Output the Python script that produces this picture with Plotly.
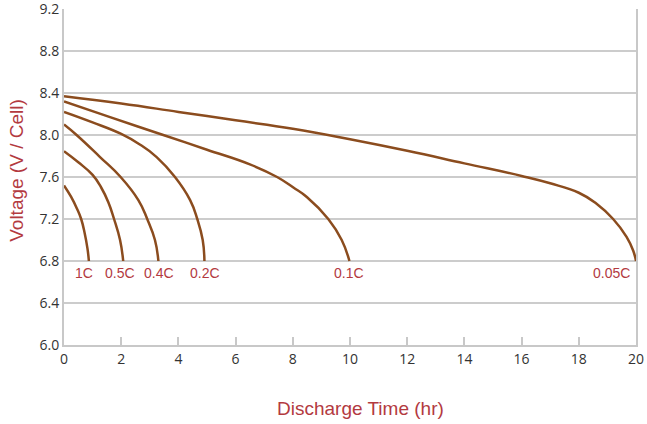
import plotly.graph_objects as go

# Discharge curves (time in hours, voltage per cell)
t_1c = [0, 0.25, 0.45, 0.60, 0.72, 0.82, 0.87]
v_1c = [7.52, 7.41, 7.30, 7.2, 7.07, 6.92, 6.8]
t_05c = [0, 0.5, 1.0, 1.3, 1.55, 1.75, 1.96, 2.07]
v_05c = [7.845, 7.74, 7.62, 7.5, 7.36, 7.2, 7.0, 6.8]
t_04c = [0, 0.44, 1.26, 1.98, 2.60, 2.91, 3.18, 3.30]
v_04c = [8.10, 8.0, 7.79, 7.6, 7.38, 7.2, 7.0, 6.8]
t_02c = [0, 1.0, 2.0, 2.65, 3.24, 3.88, 4.41, 4.66, 4.85, 4.91]
v_02c = [8.22, 8.12, 8.01, 7.91, 7.79, 7.6, 7.38, 7.2, 7.0, 6.8]
t_01c = [0, 1.61, 3.47, 5.0, 6.5, 7.45, 8.02, 8.49, 9.24, 9.71, 9.98]
v_01c = [8.32, 8.17, 8.0, 7.86, 7.72, 7.6, 7.50, 7.41, 7.2, 7.0, 6.8]
t_005c = [0, 2, 4, 6, 8, 10, 12, 14, 16, 17, 18, 18.6, 19.2, 19.67, 19.9, 20]
v_005c = [8.37, 8.30, 8.22, 8.14, 8.06, 7.96, 7.85, 7.73, 7.61, 7.54, 7.45, 7.35, 7.2, 7.03, 6.9, 6.8]

series = [
    ("1C", t_1c, v_1c),
    ("0.5C", t_05c, v_05c),
    ("0.4C", t_04c, v_04c),
    ("0.2C", t_02c, v_02c),
    ("0.1C", t_01c, v_01c),
    ("0.05C", t_005c, v_005c),
]
label_names = ["1C", "0.5C", "0.4C", "0.2C", "0.1C", "0.05C"]
label_x = [0.70, 1.96, 3.32, 4.93, 9.97, 19.16]
label_y = 6.686

x_ticks = list(range(0, 21, 2))
y_ticks = [6.0, 6.4, 6.8, 7.2, 7.6, 8.0, 8.4, 8.8, 9.2]

line_color = "#8B4C1E"
red = "#B33A3F"

fig = go.Figure()
for name, t, v in series:
    fig.add_trace(go.Scatter(x=t, y=v, mode="lines", name=name,
                             line=dict(color=line_color, width=2.5, shape="spline", smoothing=1.3),
                             showlegend=False, hoverinfo="skip"))

for name, lx in zip(label_names, label_x):
    fig.add_annotation(x=lx, y=label_y, text=name, showarrow=False,
                       xref="x", yref="y", font=dict(color=red, size=14, family="Liberation Sans"))

fig.add_annotation(text="Discharge Time (hr)", x=0.5175, y=-0.188, xref="paper", yref="paper",
                   showarrow=False, font=dict(color=red, size=19, family="Liberation Sans"),
                   xanchor="center", yanchor="middle")
fig.add_annotation(text="Voltage (V / Cell)", x=-0.083, y=0.52, xref="paper", yref="paper",
                   showarrow=False, textangle=-90,
                   font=dict(color=red, size=19, family="Liberation Sans"),
                   xanchor="center", yanchor="middle")

fig.update_xaxes(range=[0, 20.0001], tickvals=x_ticks, showgrid=False, showline=True,
                 linecolor="#c8c8c8", linewidth=2, ticks="inside", ticklen=8, tickwidth=1.5,
                 tickcolor="#c8c8c8", zeroline=False, ticklabeloverflow="allow",
                 tickfont=dict(size=14, color="#333333", family="Open Sans"))
fig.update_yaxes(range=[6.0, 9.2001], tickvals=y_ticks, tickformat=".1f", showgrid=True,
                 gridcolor="#cccccc", gridwidth=1.5, showline=True, mirror=True,
                 linecolor="#c8c8c8", linewidth=2, ticks="", zeroline=False,
                 ticklabeloverflow="allow",
                 tickfont=dict(size=14, color="#333333", family="Open Sans"))

fig.update_layout(width=647, height=424, margin=dict(l=64, r=11, t=9, b=79, autoexpand=False),
                  plot_bgcolor="white", paper_bgcolor="white")

fig.write_html("out.html", config={"displayModeBar": False},
               post_script="document.body.style.margin='0';document.body.style.padding='0';")
